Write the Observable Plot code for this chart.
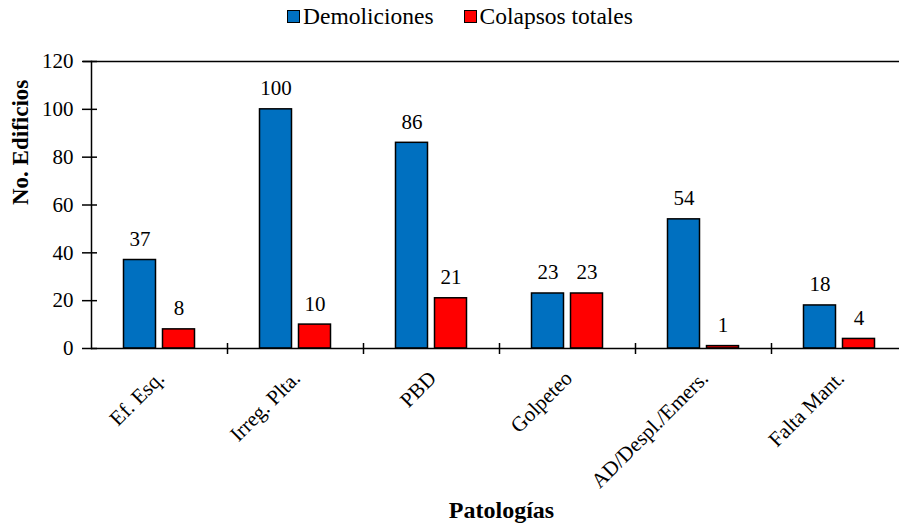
<!DOCTYPE html>
<html>
<head>
<meta charset="utf-8">
<script src="https://cdn.jsdelivr.net/npm/d3@7"></script>
<script src="https://cdn.jsdelivr.net/npm/@observablehq/plot@0.6"></script>
<style>
  html, body { margin: 0; padding: 0; background: #fff; overflow: hidden; }
  #wrap { position: relative; width: 899px; height: 527px; font-family: "Liberation Serif"; }
  #legend { position: absolute; top: 3px; left: 287px; display: flex; align-items: center; font-size: 23.5px; color: #000; white-space: nowrap; font-family: "Liberation Serif"; }
  .sw { display: inline-block; width: 11px; height: 11px; border: 1.5px solid #000; margin-right: 3px; }
  .item { display: flex; align-items: center; margin-right: 30px; }
</style>
</head>
<body>
<div id="wrap">
  <div id="legend"></div>
  <div id="chart"></div>
</div>
<script>
const categories = ["Ef. Esq.", "Irreg. Plta.", "PBD", "Golpeteo", "AD/Despl./Emers.", "Falta Mant."];
const demoliciones = [37, 100, 86, 23, 54, 18];
const colapsos = [8, 10, 21, 23, 1, 4];
const seriesNames = ["Demoliciones", "Colapsos totales"];
const seriesColors = ["#0070C0", "#FF0000"];
const yTicks = [0, 20, 40, 60, 80, 100, 120];
const yTitle = "No. Edificios";
const xTitle = "Patologías";

const data = [];
categories.forEach((c, i) => {
  data.push({cat: c, serie: seriesNames[0], value: demoliciones[i]});
  data.push({cat: c, serie: seriesNames[1], value: colapsos[i]});
});

const W = 899, H = 527;
const pLeft = 91, pRight = 907, pTop = 61, pBottom = 348;
const step = (pRight - pLeft) / categories.length;
const barW = 32;
const off = 19.5;
const inset = (step - barW) / 2;
const font = "Liberation Serif";

const serieData = s => data.filter(d => d.serie === s);

const chart = Plot.plot({
  width: W,
  height: H,
  marginLeft: pLeft,
  marginRight: 0,
  marginTop: pTop,
  marginBottom: H - pBottom,
  style: {fontFamily: font, fontSize: "21px", background: "transparent", overflow: "visible"},
  x: {domain: categories, range: [pLeft, pRight], padding: 0, axis: null},
  y: {domain: [0, 120], range: [pBottom, pTop], axis: null},
  marks: [
    Plot.barY(serieData(seriesNames[0]), {x: "cat", y: "value", fill: seriesColors[0], stroke: "#000", strokeWidth: 1.5, insetLeft: inset, insetRight: inset, dx: -off}),
    Plot.barY(serieData(seriesNames[1]), {x: "cat", y: "value", fill: seriesColors[1], stroke: "#000", strokeWidth: 1.5, insetLeft: inset, insetRight: inset, dx: off}),
    Plot.text(serieData(seriesNames[0]), {x: "cat", y: "value", text: d => String(d.value), dx: -off, dy: -14, lineAnchor: "bottom", textAnchor: "middle", fontSize: 21, fontFamily: font, fill: "#000"}),
    Plot.text(serieData(seriesNames[1]), {x: "cat", y: "value", text: d => String(d.value), dx: off, dy: -14, lineAnchor: "bottom", textAnchor: "middle", fontSize: 21, fontFamily: font, fill: "#000"}),
    // axes lines
    Plot.ruleY([0], {stroke: "#000", strokeWidth: 1.5}),
    Plot.ruleY([120], {stroke: "#000", strokeWidth: 1.5, insetLeft: -8}),
    Plot.frame({anchor: "left", stroke: "#000", strokeWidth: 1.5}),
    // y ticks crossing the axis
    Plot.axisY(yTicks, {anchor: "left", tickSize: 15, dx: 6, tickFormat: () => "", stroke: "#000", strokeWidth: 1.5, label: null}),
    Plot.axisY(yTicks, {anchor: "left", tickSize: 0, tickPadding: 18, fontSize: 21, fontFamily: font, fill: "#000", label: null}),
    // x ticks between groups
    Plot.ruleX(categories.slice(0, -1), {x: d => d, dx: step / 2, insetTop: pBottom - pTop - 5, insetBottom: -6, stroke: "#000", strokeWidth: 1.5}),
    // x category labels
    Plot.text(categories, {x: d => d, y: () => 0, text: d => d, rotate: -45, textAnchor: "end", lineAnchor: "bottom", dx: 6, dy: 31, fontSize: 21, fontFamily: font, fill: "#000"}),
    // titles
    Plot.text([yTitle], {frameAnchor: "left", rotate: -90, dx: -71, text: d => d, fontWeight: "bold", fontSize: 23, fontFamily: font, fill: "#000", lineAnchor: "middle"}),
    Plot.text([xTitle], {frameAnchor: "bottom", dx: 6, dy: 169, text: d => d, fontWeight: "bold", fontSize: 24, fontFamily: font, fill: "#000", lineAnchor: "bottom"})
  ]
});
document.getElementById("chart").appendChild(chart);

const legend = d3.select("#legend");
seriesNames.forEach((s, i) => {
  const it = legend.append("div").attr("class", "item");
  it.append("span").attr("class", "sw").style("background", seriesColors[i]);
  it.append("span").text(s);
});
</script>
</body>
</html>
